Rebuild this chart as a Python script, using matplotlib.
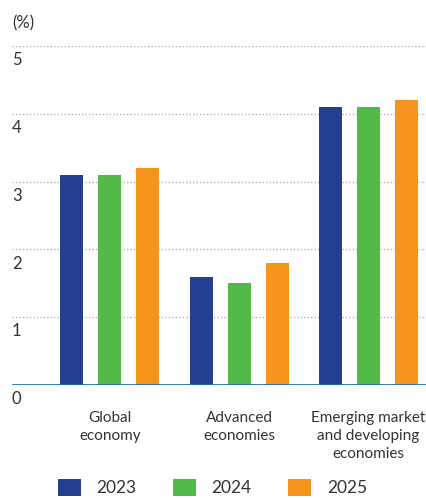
import matplotlib
matplotlib.use("Agg")
import matplotlib.pyplot as plt
import numpy as np

categories = ["Global\neconomy", "Advanced\neconomies", "Emerging market\nand developing\neconomies"]
years = ["2023", "2024", "2025"]
v2023 = [3.1, 1.6, 4.1]
v2024 = [3.1, 1.5, 4.1]
v2025 = [3.2, 1.8, 4.2]
yticks = [0, 1, 2, 3, 4, 5]
colors = ["#243f8f", "#52b848", "#f7941d"]
text_color = "#333333"

plt.rcParams['font.family'] = ['Lato', 'DejaVu Sans']

fig = plt.figure(figsize=(4.27, 4.98), dpi=100)
ax = fig.add_axes([12/427, 1 - 385/498, 1 - 12/427, (385 - 46)/498])

x = np.arange(len(categories))
off = 0.293
w = 0.178
series = [v2023, v2024, v2025]
for i, (vals, c, yr) in enumerate(zip(series, colors, years)):
    ax.bar(x + (i - 1) * off, vals, width=w, color=c, label=yr, zorder=2)

ax.set_xlim(-0.755, 2.452)
ax.set_ylim(0, 5)

for t in yticks[1:]:
    ax.axhline(t, color="#b0b0b0", lw=1.0, ls=(0, (1, 1.5)), zorder=1)
ax.axhline(0, color="#2a6db5", lw=2.0, zorder=3)

for t in yticks:
    ax.text(0.0, t - 0.09, str(t), transform=ax.get_yaxis_transform(),
            ha="left", va="top", fontsize=12, color=text_color)

ax.text(0.0, 5.22, "(%)", transform=ax.get_yaxis_transform(),
        ha="left", va="bottom", fontsize=12, color=text_color, clip_on=False)

ax.set_yticks([])
ax.set_xticks(x)
ax.set_xticklabels(categories, fontsize=11, color=text_color, linespacing=1.35)
ax.tick_params(axis="x", length=0, pad=19)
for s in ax.spines.values():
    s.set_visible(False)

fig.legend(loc="lower center", bbox_to_anchor=(0.497, -0.028), ncol=3, frameon=False,
           fontsize=12.5, handlelength=1.33, handleheight=1.2, handletextpad=0.9,
           columnspacing=2.1, labelcolor=text_color)

fig.savefig("out.png", dpi=100)
